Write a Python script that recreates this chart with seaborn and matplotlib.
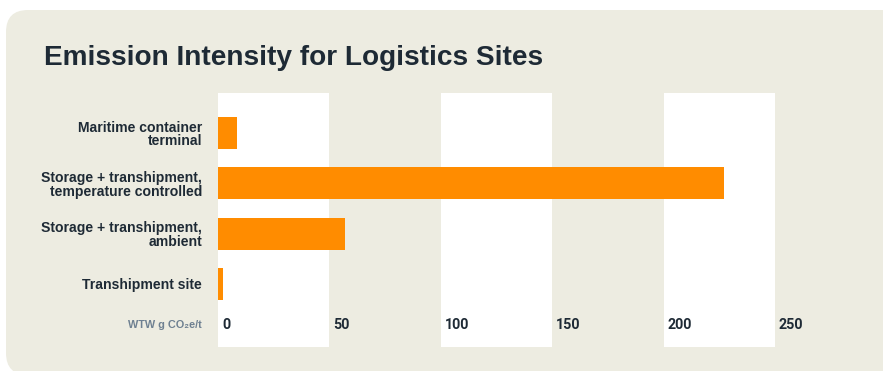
import matplotlib
matplotlib.use("Agg")
import matplotlib.pyplot as plt
from matplotlib.patches import FancyBboxPatch
from matplotlib.transforms import offset_copy
import seaborn as sns
import pandas as pd

# Data
sites = [
    "Maritime container\nterminal",
    "Storage + transhipment,\ntemperature controlled",
    "Storage + transhipment,\nambient",
    "Transhipment site",
]
intensity = [8.5, 227, 57, 2.1]
x_ticks = [0, 50, 100, 150, 200, 250]
unit_label = "WTW g CO\u2082e/t"
title = "Emission Intensity for Logistics Sites"

PANEL = "#EDECE1"
BAR = "#FF8C00"
TEXT = "#1E2A35"
MUTED = "#6E8091"

df = pd.DataFrame({"site": sites, "intensity": intensity})

sns.set_theme(style="white")
plt.rcParams["font.family"] = ["Liberation Sans", "DejaVu Sans"]

W, H, DPI = 883, 371, 100
fig = plt.figure(figsize=(W / DPI, H / DPI), dpi=DPI, facecolor="white")

# Rounded background card (pixel coordinates)
card = FancyBboxPatch((6, -4), W + 20, H - 10 + 4,
                      boxstyle="round,pad=0,rounding_size=22",
                      transform=None, facecolor=PANEL, edgecolor="none",
                      zorder=-5)
fig.patches.append(card)

fig.text(44 / W, 1 - 58 / H, title, fontsize=20.2, fontweight="bold",
         color=TEXT, ha="left", va="center")

left, right, top, bottom = 218, 775, 93, 347
ax = fig.add_axes([left / W, 1 - bottom / H, (right - left) / W, (bottom - top) / H])
ax.set_facecolor("none")
ax.set_zorder(1)

# Alternating white column bands
for i in range(0, len(x_ticks) - 1, 2):
    ax.axvspan(x_ticks[i], x_ticks[i + 1], color="white", lw=0, zorder=0)

sns.barplot(data=df, x="intensity", y="site", orient="h", color=BAR,
            saturation=1, width=0.636, linewidth=0, edgecolor="none",
            ax=ax, zorder=2)

ax.set_xlim(x_ticks[0], x_ticks[-1])
ax.set_ylim(4.252, -0.795)
ax.set_xlabel("")
ax.set_ylabel("")
ax.set_xticks([])
for s in ax.spines.values():
    s.set_visible(False)
ax.tick_params(axis="y", length=0, pad=11.5)
for lab in ax.get_yticklabels():
    lab.set_fontsize(10.1)
    lab.set_fontweight("bold")
    lab.set_color(TEXT)
    lab.set_linespacing(0.98)

# Value scale labels sitting inside the bottom of the bands
label_y = 3.815
tick_tr = offset_copy(ax.transData, fig=fig, x=4, y=0, units="dots")
for v in x_ticks:
    ax.text(v, label_y, str(v), transform=tick_tr, ha="left", va="center",
            fontsize=10.3, fontweight="bold", color=TEXT,
            family=["Roboto", "DejaVu Sans"])

unit_tr = offset_copy(ax.transData, fig=fig, x=-16, y=0, units="dots")
ax.text(0, label_y, unit_label, transform=unit_tr, ha="right", va="center",
        fontsize=7.8, fontweight="bold", color=MUTED)

fig.savefig("out.png", dpi=DPI, facecolor="white")
